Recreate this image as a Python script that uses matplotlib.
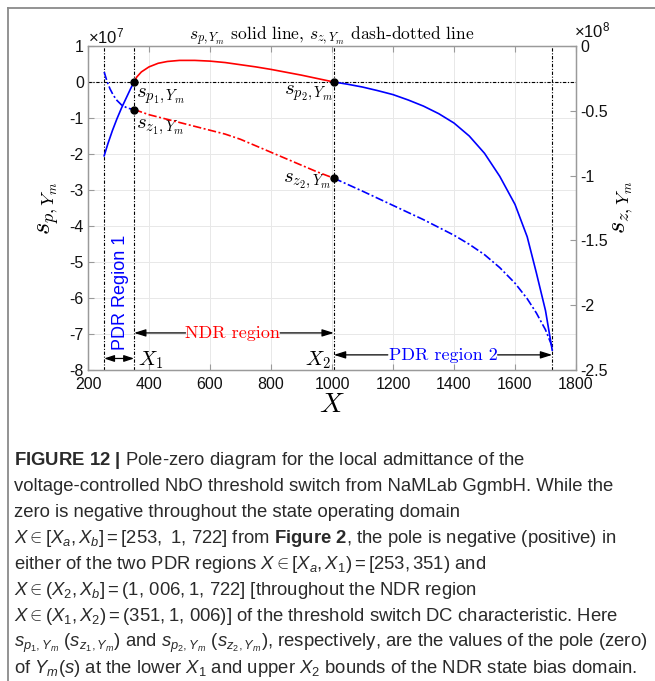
import matplotlib
matplotlib.use("Agg")
import matplotlib.pyplot as plt
from matplotlib.lines import Line2D

plt.rcParams['axes.unicode_minus'] = False
plt.rcParams['mathtext.fontset'] = 'custom'
plt.rcParams['mathtext.rm'] = 'Liberation Sans'
plt.rcParams['mathtext.it'] = 'Liberation Sans:italic'
plt.rcParams['mathtext.bf'] = 'Liberation Sans:bold'
plt.rcParams['mathtext.sf'] = 'Liberation Sans'
plt.rcParams['font.family'] = ['Liberation Sans', 'DejaVu Sans']

# ---------------- data ----------------
# pole s_p (units 1e7, left axis)
xp_pdr1 = [253, 265, 280, 295, 310, 325, 340, 351]
sp_pdr1 = [-2.05, -1.72, -1.35, -1.02, -0.72, -0.45, -0.18, 0.0]
xp_ndr = [351, 360, 375, 400, 430, 460, 500, 550, 600, 650, 700, 750, 800, 850, 900, 950, 1006]
sp_ndr = [0.0, 0.14, 0.28, 0.42, 0.52, 0.57, 0.60, 0.60, 0.58, 0.54, 0.48, 0.42, 0.35, 0.27, 0.19, 0.10, 0.0]
xp_pdr2 = [1006, 1050, 1100, 1150, 1200, 1250, 1300, 1350, 1400, 1450, 1500, 1550, 1600, 1640, 1670, 1700, 1722]
sp_pdr2 = [0.0, -0.06, -0.14, -0.24, -0.35, -0.50, -0.67, -0.88, -1.14, -1.50, -1.98, -2.62, -3.40, -4.30, -5.30, -6.35, -7.45]

# zero s_z (units 1e8, right axis)
xz_pdr1 = [253, 262, 272, 283, 295, 310, 330, 351]
sz_pdr1 = [-0.20, -0.27, -0.33, -0.38, -0.42, -0.455, -0.48, -0.49]
xz_ndr = [351, 400, 450, 500, 550, 600, 650, 700, 750, 800, 850, 900, 950, 1006]
sz_ndr = [-0.49, -0.53, -0.56, -0.59, -0.62, -0.65, -0.68, -0.72, -0.77, -0.82, -0.87, -0.92, -0.97, -1.02]
xz_pdr2 = [1006, 1100, 1200, 1300, 1400, 1450, 1500, 1550, 1600, 1640, 1670, 1700, 1722]
sz_pdr2 = [-1.02, -1.12, -1.23, -1.34, -1.46, -1.53, -1.61, -1.71, -1.83, -1.95, -2.06, -2.19, -2.32]

# key bounds
Xa, X1, X2, Xb = 253, 351, 1006, 1722
sp1, sp2 = 0.0, 0.0
sz1, sz2 = -0.49, -1.02

xticks = [200, 400, 600, 800, 1000, 1200, 1400, 1600, 1800]
yticks_left = [1, 0, -1, -2, -3, -4, -5, -6, -7, -8]
yticks_right = [0, -0.5, -1, -1.5, -2, -2.5]
yticklabels_right = ['0', '-0.5', '-1', '-1.5', '-2', '-2.5']

caption_lines = [
    r"$\mathbf{FIGURE\ 12\ |}$ Pole-zero diagram for the local admittance of the",
    r"voltage-controlled NbO threshold switch from NaMLab GgmbH. While the",
    r"zero is negative throughout the state operating domain",
    r"$X \in [X_a,X_b] = [253,\ 1,\,722]$ from $\mathbf{Figure\ 2}$, the pole is negative (positive) in",
    r"either of the two PDR regions $X \in [X_a,X_1) = [253, 351)$ and",
    r"$X \in (X_2,X_b] = (1,\,006, 1,\,722]$ [throughout the NDR region",
    r"$X \in (X_1,X_2) = (351, 1,\,006)]$ of the threshold switch DC characteristic. Here",
    r"$s_{p_1,Y_m}$ ($s_{z_1,Y_m}$) and $s_{p_2,Y_m}$ ($s_{z_2,Y_m}$), respectively, are the values of the pole (zero)",
    r"of $Y_m(s)$ at the lower $X_1$ and upper $X_2$ bounds of the NDR state bias domain.",
]

# ---------------- figure ----------------
W, H = 655, 681
fig = plt.figure(figsize=(W / 100, H / 100), dpi=100)

# frame
fig.add_artist(Line2D([8 / W, 1.0], [1 - 8 / H, 1 - 8 / H], color='#8a8a8a', lw=1.3))
fig.add_artist(Line2D([8 / W, 8 / W], [0, 1 - 8 / H], color='#8a8a8a', lw=1.3))

ax = fig.add_axes([88 / W, 1 - 370 / H, (576 - 88) / W, (370 - 46) / H])
ax2 = ax.twinx()

BLUE = '#0000ff'
RED = '#ff0000'
lw = 1.2
dd = (0, (5, 1.5, 1.2, 1.5))

ax.plot(xp_pdr1, sp_pdr1, color=BLUE, lw=lw)
ax.plot(xp_ndr, sp_ndr, color=RED, lw=lw)
ax.plot(xp_pdr2, sp_pdr2, color=BLUE, lw=lw)

ax2.plot(xz_pdr1, sz_pdr1, color=BLUE, lw=lw, ls=dd)
ax2.plot(xz_ndr, sz_ndr, color=RED, lw=lw, ls=dd)
ax2.plot(xz_pdr2, sz_pdr2, color=BLUE, lw=lw, ls=dd)

vls = (0, (3, 1.5, 1, 1.5))
for xv in [Xa, X1, X2, Xb]:
    ax.axvline(xv, color='k', lw=0.8, ls=vls, zorder=1)
ax.axhline(0, color='k', lw=0.8, ls=vls, zorder=1)

ax.plot([X1, X2], [sp1, sp2], 'o', color='k', ms=5, ls='none', zorder=5)
ax2.plot([X1, X2], [sz1, sz2], 'o', color='k', ms=5, ls='none', zorder=5)

ax.set_xlim(200, 1800)
ax.set_ylim(-8, 1)
ax2.set_ylim(-2.5, 0)
ax.set_xticks(xticks)
ax.set_xticklabels([str(t) for t in xticks])
ax.set_yticks(yticks_left)
ax.set_yticklabels([str(t) for t in yticks_left])
ax2.set_yticks(yticks_right)
ax2.set_yticklabels(yticklabels_right)

ax.grid(True, color='#e8e8e8', lw=0.7)
ax.set_axisbelow(True)
for a in (ax, ax2):
    for s in a.spines.values():
        s.set_color('#9a9a9a')
        s.set_linewidth(0.9)
ax.tick_params(axis='both', direction='in', length=4, color='#9a9a9a', labelsize=11.5,
               labelcolor='#111', top=True)
ax.tick_params(axis='y', right=False, pad=3)
ax.tick_params(axis='x', pad=5)
ax2.tick_params(axis='y', direction='in', length=4, color='#9a9a9a', labelsize=11.5,
                labelcolor='#111', pad=3)

cm = dict(math_fontfamily='cm')
serif = dict(family='cmr10', math_fontfamily='cm')

# exponent labels
ax.text(0.0, 1.0 + 3 / 324, r'$\times10^{7}$', transform=ax.transAxes, fontsize=12,
        ha='left', va='baseline', color='#111')
ax2.text(1.0 - 2 / 488, 1.0 + 9 / 324, r'$\times10^{8}$', transform=ax2.transAxes, fontsize=12,
         ha='left', va='baseline', color='#111')

# title
ax.text(0.5, 1.0 + 6 / 324, r'$s_{p,Y_m}$ solid line, $s_{z,Y_m}$ dash-dotted line',
        transform=ax.transAxes, ha='center', va='baseline', fontsize=12.5, **serif)

# axis labels
ax.set_xlabel(r'$X$', fontsize=20, labelpad=0, **cm)
ax.set_ylabel(r'$s_{p,Y_m}$', fontsize=19, labelpad=6, **cm)
ax2.set_ylabel(r'$s_{z,Y_m}$', fontsize=19, labelpad=2, rotation=90, **cm)

# point labels
ax.text(X1 + 6, -0.40, r'$s_{p_1,Y_m}$', fontsize=15, ha='left', va='center', **cm)
ax.text(X1 + 6, -1.25, r'$s_{z_1,Y_m}$', fontsize=15, ha='left', va='center', **cm)
ax.text(X2 - 4, -0.30, r'$s_{p_2,Y_m}$', fontsize=15, ha='right', va='center', **cm)
ax.text(X2 - 8, -2.75, r'$s_{z_2,Y_m}$', fontsize=15, ha='right', va='center', **cm)

# region annotations
arrow = dict(arrowstyle='-|>,head_length=0.7,head_width=0.22', color='k', lw=0.9,
             shrinkA=0, shrinkB=0)
ax.text(305, -5.85, 'PDR Region 1', rotation=90, color=BLUE, fontsize=13,
        ha='center', va='center', family='Liberation Sans')
ax.annotate('', xy=(X1, -7.68), xytext=(Xa, -7.68),
            arrowprops=dict(arrowstyle='<|-|>,head_length=0.6,head_width=0.2', color='k', lw=0.9,
                            shrinkA=0, shrinkB=0))
ax.text(X1 + 12, -7.72, r'$X_1$', fontsize=15, ha='left', va='center', **cm)
ax.text(X2 - 10, -7.72, r'$X_2$', fontsize=15, ha='right', va='center', **cm)

ax.text(674, -6.97, 'NDR region', color=RED, fontsize=13, ha='center', va='center', **serif)
ax.annotate('', xy=(X1, -6.97), xytext=(520, -6.97), arrowprops=arrow)
ax.annotate('', xy=(X2, -6.97), xytext=(830, -6.97), arrowprops=arrow)

ax.text(1364, -7.58, 'PDR region 2', color=BLUE, fontsize=13, ha='center', va='center', **serif)
ax.annotate('', xy=(X2, -7.58), xytext=(1183, -7.58), arrowprops=arrow)
ax.annotate('', xy=(Xb, -7.58), xytext=(1543, -7.58), arrowprops=arrow)

# caption
for i, line in enumerate(caption_lines):
    yb = 465 + 26 * i
    fig.text(14 / W, 1 - yb / H, line, fontsize=13.3, ha='left', va='baseline',
             color='#2a2a2a', math_fontfamily='custom')

fig.savefig('out.png', dpi=100)
